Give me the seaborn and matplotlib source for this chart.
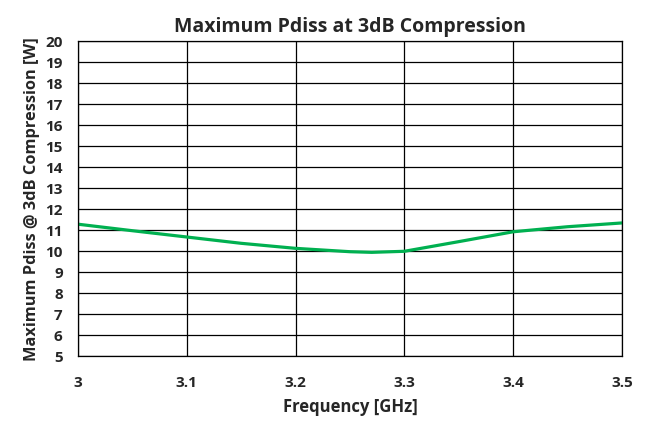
import numpy as np
import pandas as pd
import matplotlib
matplotlib.use("Agg")
import matplotlib.pyplot as plt
import seaborn as sns

# values
freq_ghz = [3.00, 3.05, 3.10, 3.15, 3.20, 3.25, 3.27, 3.30, 3.35, 3.40, 3.45, 3.50]
pdiss_w = [11.29, 10.98, 10.68, 10.38, 10.14, 9.98, 9.95, 10.00, 10.46, 10.93, 11.17, 11.35]

x_ticks = [3.0, 3.1, 3.2, 3.3, 3.4, 3.5]
x_tick_labels = ["3", "3.1", "3.2", "3.3", "3.4", "3.5"]
y_ticks = list(range(5, 21))

df = pd.DataFrame({"Frequency": freq_ghz, "Pdiss": pdiss_w})

sns.set_style("white")
plt.rcParams['font.family'] = ['Open Sans', 'DejaVu Sans']
plt.rcParams['font.weight'] = 'bold'

fig = plt.figure(figsize=(6.51, 4.23), dpi=100, facecolor='w')
ax = fig.add_axes([0.1198, 0.1577, 0.8357, 0.7447])

sns.lineplot(data=df, x="Frequency", y="Pdiss", ax=ax, color="#00B050", linewidth=2.3)

ax.set_xlim(3.0, 3.5)
ax.set_ylim(5, 20)
ax.set_xticks(x_ticks)
ax.set_xticklabels(x_tick_labels)
ax.set_yticks(y_ticks)
ax.grid(True, color='black', linewidth=0.9)
ax.set_axisbelow(True)
for s in ax.spines.values():
    s.set_color('black')
    s.set_linewidth(0.9)

ax.tick_params(axis='x', length=0, pad=14, labelsize=11)
ax.tick_params(axis='y', length=0, pad=11, labelsize=11)
for lab in ax.get_xticklabels() + ax.get_yticklabels():
    lab.set_fontweight('bold')

ax.set_xlabel("Frequency [GHz]", fontsize=12, fontweight='bold', labelpad=6)
ax.set_ylabel("Maximum Pdiss @ 3dB Compression [W]", fontsize=11.8, fontweight='bold', labelpad=4)
ax.set_title("Maximum Pdiss at 3dB Compression", fontsize=14, fontweight='bold', pad=7)

fig.savefig("out.png", dpi=100)
